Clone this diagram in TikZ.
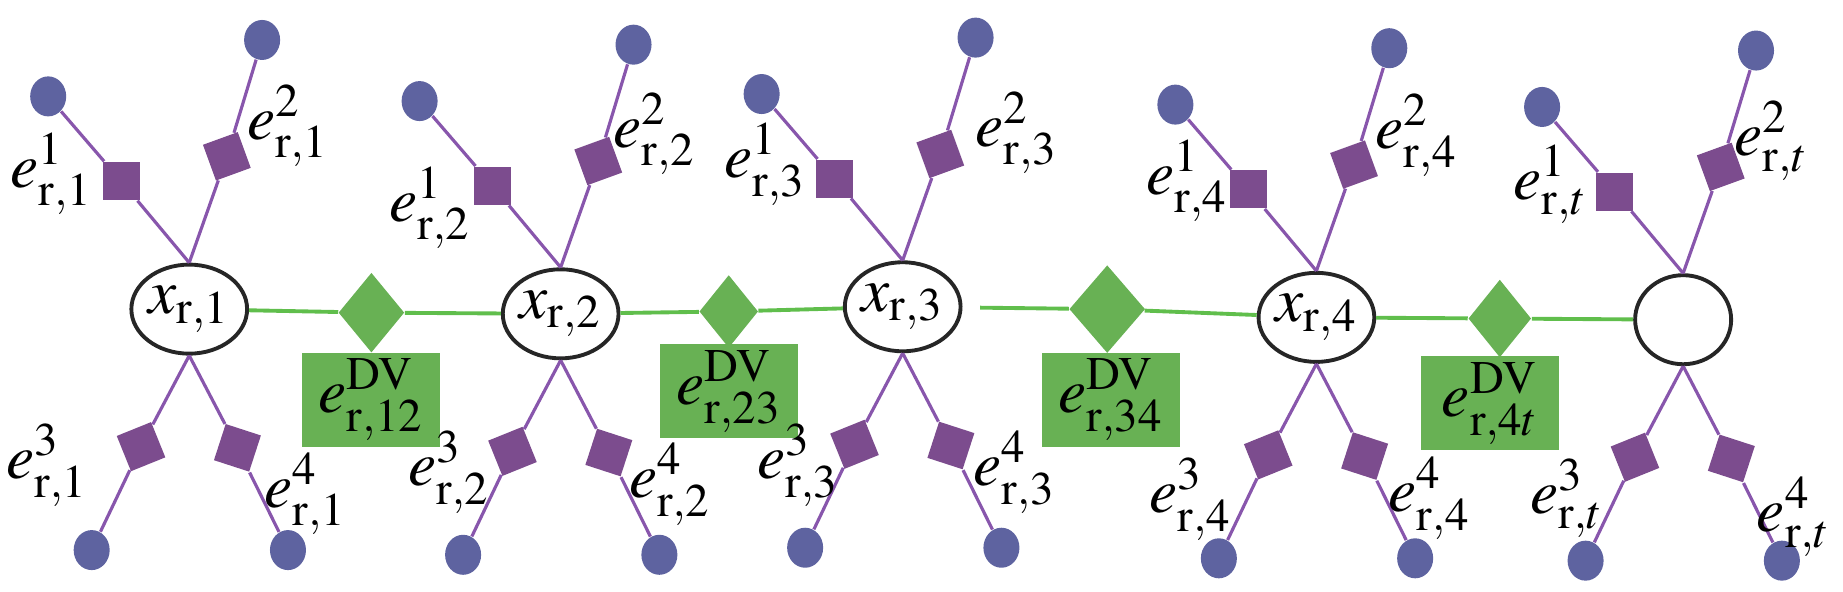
\documentclass[tikz,border=0pt]{standalone}
\usepackage{mathptmx}
\usetikzlibrary{shapes.geometric}
\definecolor{sqpurple}{RGB}{124,76,142}
\definecolor{spokepurple}{RGB}{136,86,172}
\definecolor{leafblue}{RGB}{94,99,160}
\definecolor{dvgreen}{RGB}{104,177,84}
\definecolor{linkgreen}{RGB}{96,190,76}
\newcommand{\mkstar}[1]{%
  \node[sqbox] (#1sa) at ([shift={(-58,-109)}]#1) {};
  \node[leaf] (#1ca) at ([shift={(-120,-181)}]#1) {};
  \node[sqbox,rotate=20] (#1sb) at ([shift={(32,-130)}]#1) {};
  \node[leaf] (#1cb) at ([shift={(62,-229)}]#1) {};
  \node[sqbox,rotate=22] (#1sc) at ([shift={(-41,117)}]#1) {};
  \node[leaf] (#1cc) at ([shift={(-83,205)}]#1) {};
  \node[sqbox,rotate=-18] (#1sd) at ([shift={(41,118)}]#1) {};
  \node[leaf] (#1cd) at ([shift={(84,205)}]#1) {};
  \draw[spoke] (#1.north) -- (#1sa) -- (#1ca);
  \draw[spoke] (#1.north) -- (#1sb) -- (#1cb);
  \draw[spoke] (#1.south) -- (#1sc) -- (#1cc);
  \draw[spoke] (#1.south) -- (#1sd) -- (#1cd);
}
\begin{document}
\begin{tikzpicture}[x=0.011754cm, y=-0.011754cm,
  var/.style={ellipse, draw=black!85, line width=1.1pt, fill=white,
    minimum width=0.96cm, minimum height=0.89cm, inner sep=0pt,
    font=\fontsize{18}{21}\selectfont},
  fac/.style={diamond, fill=dvgreen, inner sep=0pt},
  dvbox/.style={rectangle, fill=dvgreen, minimum width=1.38cm,
    minimum height=0.94cm, inner sep=0pt, font=\fontsize{18}{21}\selectfont},
  sqbox/.style={rectangle, fill=sqpurple, minimum width=0.37cm,
    minimum height=0.38cm, inner sep=0pt},
  leaf/.style={ellipse, fill=leafblue, minimum width=0.36cm,
    minimum height=0.40cm, inner sep=0pt},
  spoke/.style={draw=spokepurple, line width=0.9pt},
  link/.style={draw=linkgreen, line width=1.1pt},
  lab/.style={inner sep=0pt, font=\fontsize{18}{21}\selectfont}]
\useasboundingbox (0,0) rectangle (1568,503);
% variable nodes
\node[var] (N1) at (161,263) {$x_{\mathrm{r},1}$};
\node[var] (N2) at (477,267) {$x_{\mathrm{r},2}$};
\node[var] (N3) at (768,261) {$x_{\mathrm{r},3}$};
\node[var] (N4) at (1120,270) {$x_{\mathrm{r},4}$};
\node[var] (N5) at (1432,272) {};
% factor diamonds
\node[fac, minimum width=0.66cm, minimum height=0.80cm] (D12) at (316,266) {};
\node[fac, minimum width=0.59cm, minimum height=0.73cm] (D23) at (620,265) {};
\node[fac, minimum width=0.76cm, minimum height=0.88cm] (D34) at (942,263) {};
\node[fac, minimum width=0.63cm, minimum height=0.78cm] (D4t) at (1276,271) {};
% links
\draw[link] (N1) -- (D12) -- (N2);
\draw[link] (N2) -- (D23) -- (N3);
\draw[link, shorten <=5pt] (N3) -- (D34);
\draw[link] (D34) -- (N4);
\draw[link] (N4) -- (D4t) -- (N5);
% DV boxes
\node[dvbox] (R12) at (316,340) {$e^{\mathrm{DV}}_{\mathrm{r},12}$};
\node[dvbox] (R23) at (620,333) {$e^{\mathrm{DV}}_{\mathrm{r},23}$};
\node[dvbox] (R34) at (945,340) {$e^{\mathrm{DV}}_{\mathrm{r},34}$};
\node[dvbox] (R4t) at (1268,343) {$e^{\mathrm{DV}}_{\mathrm{r},4t}$};
% stars
\mkstar{N1}
\mkstar{N2}
\mkstar{N3}
\mkstar{N4}
\mkstar{N5}
% labels
\node[lab] (l11) at (44,148) {$e^{1}_{\mathrm{r},1}$};
\node[lab] (l21) at (245,107) {$e^{2}_{\mathrm{r},1}$};
\node[lab] (l31) at (40,396) {$e^{3}_{\mathrm{r},1}$};
\node[lab] (l41) at (260,420) {$e^{4}_{\mathrm{r},1}$};
\node[lab] (l12) at (366,177) {$e^{1}_{\mathrm{r},2}$};
\node[lab] (l22) at (557,114) {$e^{2}_{\mathrm{r},2}$};
\node[lab] (l32) at (382,402) {$e^{3}_{\mathrm{r},2}$};
\node[lab] (l42) at (570,412) {$e^{4}_{\mathrm{r},2}$};
\node[lab] (l13) at (651,140) {$e^{1}_{\mathrm{r},3}$};
\node[lab] (l23) at (865,113) {$e^{2}_{\mathrm{r},3}$};
\node[lab] (l33) at (679,396) {$e^{3}_{\mathrm{r},3}$};
\node[lab] (l43) at (863,402) {$e^{4}_{\mathrm{r},3}$};
\node[lab] (l14) at (1010,154) {$e^{1}_{\mathrm{r},4}$};
\node[lab] (l24) at (1205,115) {$e^{2}_{\mathrm{r},4}$};
\node[lab] (l34) at (1013,425) {$e^{3}_{\mathrm{r},4}$};
\node[lab] (l44) at (1216,424) {$e^{4}_{\mathrm{r},4}$};
\node[lab] (l15) at (1319,157) {$e^{1}_{\mathrm{r},t}$};
\node[lab] (l25) at (1507,120) {$e^{2}_{\mathrm{r},t}$};
\node[lab] (l35) at (1333,424) {$e^{3}_{\mathrm{r},t}$};
\node[lab] (l45) at (1526,440) {$e^{4}_{\mathrm{r},t}$};
\end{tikzpicture}
\end{document}
